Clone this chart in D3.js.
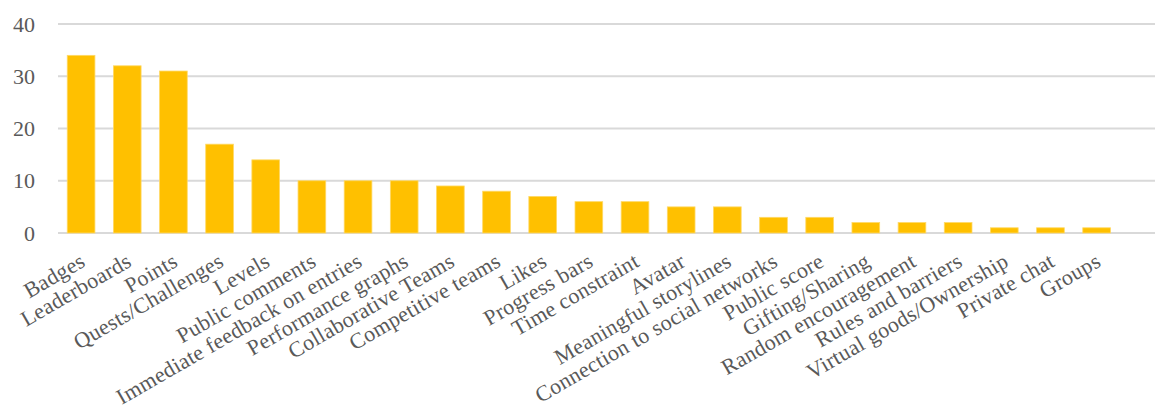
<!DOCTYPE html>
<html><head><meta charset="utf-8">
<script src="https://cdn.jsdelivr.net/npm/d3@7"></script>
<style>body{margin:0;background:#fff;}svg{display:block;}</style>
</head><body>
<svg id="c" width="1155" height="410"></svg>
<script>
const categories = ["Badges","Leaderboards","Points","Quests/Challenges","Levels","Public comments","Immediate feedback on entries","Performance graphs","Collaborative Teams","Competitive teams","Likes","Progress bars","Time constraint","Avatar","Meaningful storylines","Connection to social networks","Public score","Gifting/Sharing","Random encouragement","Rules and barriers","Virtual goods/Ownership","Private chat","Groups"];
const values = [34,32,31,17,14,10,10,10,9,8,7,6,6,5,5,3,3,2,2,2,1,1,1];
const yTicks = [0,10,20,30,40];

const svg = d3.select("#c");
const font = "'Liberation Serif', 'DejaVu Serif', serif";
const x = d3.scaleBand().domain(categories).range([58, 1119.7]).paddingInner(0.4).paddingOuter(0.2);
const y = d3.scaleLinear().domain([0,40]).range([233, 24]);

// gridlines
svg.append("g").selectAll("line").data(yTicks).join("line")
  .attr("x1", 58).attr("x2", 1155)
  .attr("y1", d => y(d)).attr("y2", d => y(d))
  .attr("stroke", "#d9d9d9").attr("stroke-width", 2);

// y labels
svg.append("g").selectAll("text").data(yTicks).join("text")
  .attr("x", 35).attr("y", d => y(d)).attr("dy", "0.35em")
  .attr("text-anchor", "end").attr("fill", "#595959")
  .style("font-family", font).style("font-size", "22px")
  .text(d => d);

// bars
svg.append("g").selectAll("rect").data(values).join("rect")
  .attr("x", (d,i) => x(categories[i]))
  .attr("width", x.bandwidth())
  .attr("y", d => y(d)).attr("height", d => y(0) - y(d))
  .attr("fill", "#FFC000").attr("stroke", "#ffd966").attr("stroke-width", 0.8);

// x labels
svg.append("g").selectAll("text").data(categories).join("text")
  .attr("transform", d => `translate(${x(d) + x.bandwidth()/2 - 2},${252}) rotate(-30)`)
  .attr("text-anchor", "end").attr("dy", "0.7em").attr("fill", "#595959")
  .style("font-family", font).style("font-size", "22px").style("letter-spacing", "0.3px")
  .text(d => d);
</script>
</body></html>
